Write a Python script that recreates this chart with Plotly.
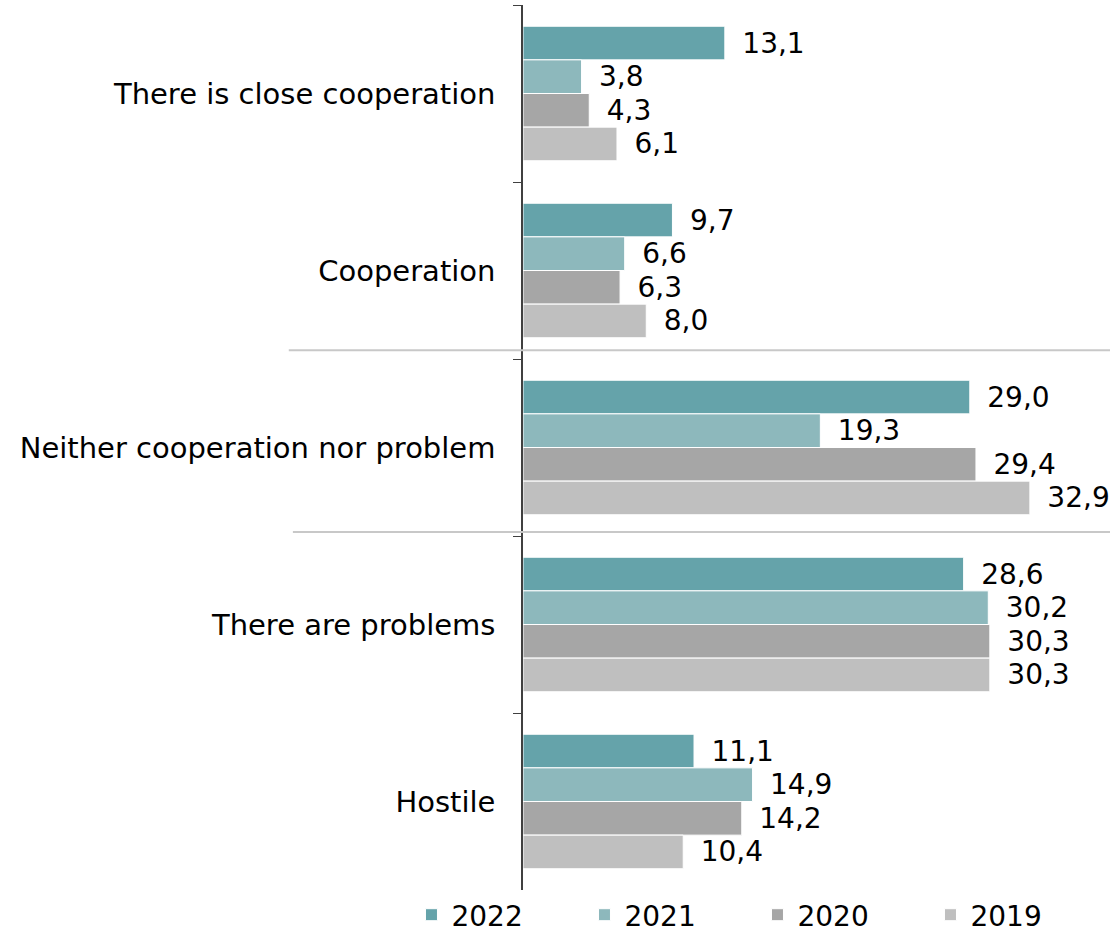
import plotly.graph_objects as go

categories = ["There is close cooperation", "Cooperation", "Neither cooperation nor problem",
              "There are problems", "Hostile"]
years = ["2022", "2021", "2020", "2019"]
v2022 = [13.1, 9.7, 29.0, 28.6, 11.1]
v2021 = [3.8, 6.6, 19.3, 30.2, 14.9]
v2020 = [4.3, 6.3, 29.4, 30.3, 14.2]
v2019 = [6.1, 8.0, 32.9, 30.3, 10.4]
colors = ["#65a3aa", "#8db8bc", "#a6a6a6", "#bfbfbf"]

FONT = "DejaVu Sans"

fig = go.Figure()
for name, vals, col in zip(years, [v2022, v2021, v2020, v2019], colors):
    fig.add_trace(go.Bar(
        y=categories, x=vals, name=name, orientation="h",
        marker=dict(color=col, line=dict(color="white", width=1)),
        text=["\u00a0\u2009" + f"{v:.1f}".replace(".", ",") for v in vals],
        textposition="outside", constraintext="none", cliponaxis=False,
        textfont=dict(family=FONT, size=28, color="black"),
    ))

fig.update_layout(
    width=1114, height=937,
    margin=dict(l=523, r=4, t=5, b=47, autoexpand=False),
    barmode="group", bargap=0.24, bargroupgap=0,
    plot_bgcolor="white", paper_bgcolor="white",
    font=dict(family=FONT, size=29, color="black"),
    showlegend=True,
    legend=dict(orientation="h", x=-0.19, xanchor="left", y=0.0, yanchor="top",
                entrywidth=128, entrywidthmode="pixels",
                font=dict(family=FONT, size=28), traceorder="normal"),
)

fig.update_xaxes(range=[0, 38.1], visible=False, showgrid=False, automargin=False)
fig.update_yaxes(
    autorange="reversed", showline=True, linecolor="#404040", linewidth=1.5,
    ticks="outside", tickson="boundaries", ticklen=8, tickcolor="#404040",
    ticklabelstandoff=20, showgrid=False, automargin=False,
)

# separator lines between groups
for x0, yp in [(-0.399, 0.610), (-0.392, 0.4045)]:
    fig.add_shape(type="line", xref="paper", yref="paper", x0=x0, x1=1.0, y0=yp, y1=yp,
                  line=dict(color="#c8c8c8", width=2))

# page body margin would shift the figure
fig.write_html("out.html", config={"displayModeBar": False},
               post_script="document.body.style.margin='0px';")
